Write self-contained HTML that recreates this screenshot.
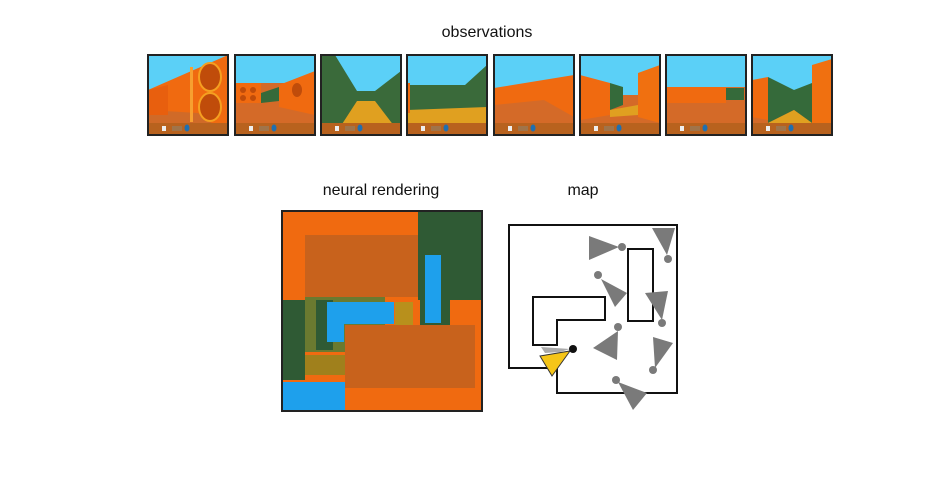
<!DOCTYPE html>
<html><head><style>
body{margin:0;background:#fff;width:950px;height:487px;overflow:hidden;position:relative;font-family:"Liberation Sans",sans-serif}
.t{position:absolute;font-size:16px;color:#111;text-align:center}
</style></head><body>
<div class="t" style="left:387px;top:24px;width:200px">observations</div>
<div class="t" style="left:281px;top:182px;width:200px">neural rendering</div>
<div class="t" style="left:533px;top:182px;width:100px">map</div>
<svg width="950" height="487" style="position:absolute;left:0;top:0">
<defs>
<g id="hud"><rect x="0" y="68" width="80" height="12" fill="#b8621e"/><rect x="14" y="71" width="4" height="5" fill="#eee"/><rect x="24" y="71" width="10" height="5" fill="#a0744a"/><ellipse cx="39" cy="73" rx="2.5" ry="3.5" fill="#1f6fb0"/></g>
</defs>
<!-- frame 1 -->
<g transform="translate(148,55)">
<rect width="80" height="80" fill="#5bd0f7"/>
<polygon points="0,35 80,0 80,80 0,80" fill="#f06a10"/>
<polygon points="0,55 50,58 80,80 0,80" fill="#d06a28"/>
<polygon points="0,35 20,30 20,60 0,60" fill="#e85f0e"/>
<ellipse cx="62" cy="22" rx="11" ry="14" fill="#c04c0a" stroke="#f5a020" stroke-width="2"/>
<ellipse cx="62" cy="52" rx="11" ry="14" fill="#c04c0a" stroke="#f5a020" stroke-width="2"/>
<rect x="42" y="12" width="3" height="55" fill="#f7a030"/>
<use href="#hud"/></g>
<!-- frame 2 -->
<g transform="translate(235,55)">
<rect width="80" height="80" fill="#5bd0f7"/>
<rect x="0" y="28" width="80" height="52" fill="#d46a28"/>
<rect x="0" y="28" width="26" height="20" fill="#f06a10"/>
<polygon points="26,38 44,32 44,46 26,48" fill="#356a3a"/>
<polygon points="44,30 80,16 80,60 44,52" fill="#f06a10"/>
<circle cx="8" cy="35" r="3" fill="#c04c0a"/><circle cx="18" cy="35" r="3" fill="#c04c0a"/><circle cx="8" cy="43" r="3" fill="#c04c0a"/><circle cx="18" cy="43" r="3" fill="#c04c0a"/>
<ellipse cx="62" cy="35" rx="5" ry="7" fill="#c04c0a"/>
<use href="#hud"/></g>
<!-- frame 3 -->
<g transform="translate(321,55)">
<rect width="80" height="80" fill="#3a6a3a"/>
<polygon points="14,0 80,0 80,16 54,36 36,36" fill="#5bd0f7"/>
<polygon points="36,46 54,46 80,80 14,80" fill="#e0a020"/>
<use href="#hud"/></g>
<!-- frame 4 -->
<g transform="translate(407,55)">
<rect width="80" height="80" fill="#5bd0f7"/>
<polygon points="0,30 58,30 80,10 80,80 0,80" fill="#3a6a3a"/>
<polygon points="0,55 80,52 80,80 0,80" fill="#e0a020"/>
<rect x="0" y="28" width="3" height="30" fill="#f06a10"/>
<use href="#hud"/></g>
<!-- frame 5 -->
<g transform="translate(494,55)">
<rect width="80" height="80" fill="#5bd0f7"/>
<polygon points="0,33 80,20 80,80 0,80" fill="#f06a10"/>
<polygon points="0,50 50,45 80,62 80,80 0,80" fill="#d46a28"/>
<use href="#hud"/></g>
<!-- frame 6 -->
<g transform="translate(580,55)">
<rect width="80" height="80" fill="#5bd0f7"/>
<rect x="0" y="40" width="80" height="40" fill="#d46a28"/>
<polygon points="0,20 30,28 30,60 0,65" fill="#f06a10"/>
<polygon points="30,28 43,32 43,50 30,55" fill="#356a3a"/>
<polygon points="58,18 80,10 80,68 58,62" fill="#f07010"/>
<polygon points="30,55 58,50 58,60 30,62" fill="#e0a020"/>
<use href="#hud"/></g>
<!-- frame 7 -->
<g transform="translate(666,55)">
<rect width="80" height="80" fill="#5bd0f7"/>
<rect x="0" y="32" width="80" height="48" fill="#d46a28"/>
<rect x="0" y="32" width="60" height="16" fill="#f06a10"/>
<rect x="60" y="33" width="18" height="12" fill="#356a3a"/>
<use href="#hud"/></g>
<!-- frame 8 -->
<g transform="translate(752,55)">
<rect width="80" height="80" fill="#5bd0f7"/>
<rect x="0" y="40" width="80" height="40" fill="#d46a28"/>
<polygon points="0,25 16,22 16,65 0,62" fill="#f06a10"/>
<polygon points="16,22 42,35 42,55 16,68" fill="#356a3a"/>
<polygon points="42,35 60,28 60,68 42,55" fill="#356a3a"/>
<polygon points="16,68 42,55 60,68" fill="#e0a020"/>
<polygon points="60,10 80,4 80,75 60,68" fill="#f07010"/>
<use href="#hud"/></g>
<g fill="none" stroke="#222" stroke-width="2">
<rect x="148" y="55" width="80" height="80"/><rect x="235" y="55" width="80" height="80"/><rect x="321" y="55" width="80" height="80"/><rect x="407" y="55" width="80" height="80"/><rect x="494" y="55" width="80" height="80"/><rect x="580" y="55" width="80" height="80"/><rect x="666" y="55" width="80" height="80"/><rect x="752" y="55" width="80" height="80"/>
</g>

<!-- neural rendering -->
<g>
<rect x="282" y="211" width="200" height="200" fill="#f06a10"/>
<rect x="418" y="212" width="63" height="88" fill="#2f5a34"/>
<rect x="283" y="300" width="22" height="80" fill="#2f5a34"/>
<rect x="305" y="235" width="113" height="62" fill="#c8621c"/>
<rect x="305" y="297" width="80" height="55" fill="#6a7a30"/>
<rect x="316" y="300" width="17" height="50" fill="#2f5a34"/>
<rect x="327" y="302" width="67" height="22" fill="#1ea0ec"/>
<rect x="327" y="302" width="17" height="40" fill="#1ea0ec"/>
<rect x="305" y="355" width="40" height="20" fill="#a0801c"/>
<rect x="395" y="302" width="18" height="23" fill="#b8901c"/>
<rect x="420" y="240" width="30" height="85" fill="#2f5a34"/>
<rect x="425" y="255" width="16" height="68" fill="#1ea0ec"/>
<rect x="345" y="325" width="130" height="63" fill="#c8621c"/>
<rect x="283" y="382" width="62" height="28" fill="#1ea0ec"/>
</g>
<rect x="282" y="211" width="200" height="200" fill="none" stroke="#222" stroke-width="2"/>

<!-- map -->
<g fill="none" stroke="#111" stroke-width="2">
<path d="M509 225 L677 225 L677 393 L557 393 L557 368 L509 368 Z"/>
<path d="M533 297 L605 297 L605 320 L557 320 L557 345 L533 345 Z"/>
<rect x="628" y="249" width="25" height="72"/>
</g>
<g fill="#7a7a7a">
<polygon points="589,236 589,260 619,247"/><circle cx="622" cy="247" r="4"/>
<polygon points="652,228 675,228 667,255"/><circle cx="668" cy="259" r="4"/>
<polygon points="601,279 627,293 615,307"/><circle cx="598" cy="275" r="4"/>
<polygon points="645,293 668,291 662,320"/><circle cx="662" cy="323" r="4"/>
<polygon points="618,331 593,348 617,360"/><circle cx="618" cy="327" r="4"/>
<polygon points="653,337 673,343 655,368"/><circle cx="653" cy="370" r="4"/>
<polygon points="618,382 647,393 633,410"/><circle cx="616" cy="380" r="4"/>
<polygon points="541,347 570,349 560,352 545,353" fill="#aaa"/>
</g>
<polygon points="540,356 570,351 552,376" fill="#f5c518" stroke="#333" stroke-width="1"/>
<circle cx="573" cy="349" r="4" fill="#111"/>
</svg>
</body></html>
